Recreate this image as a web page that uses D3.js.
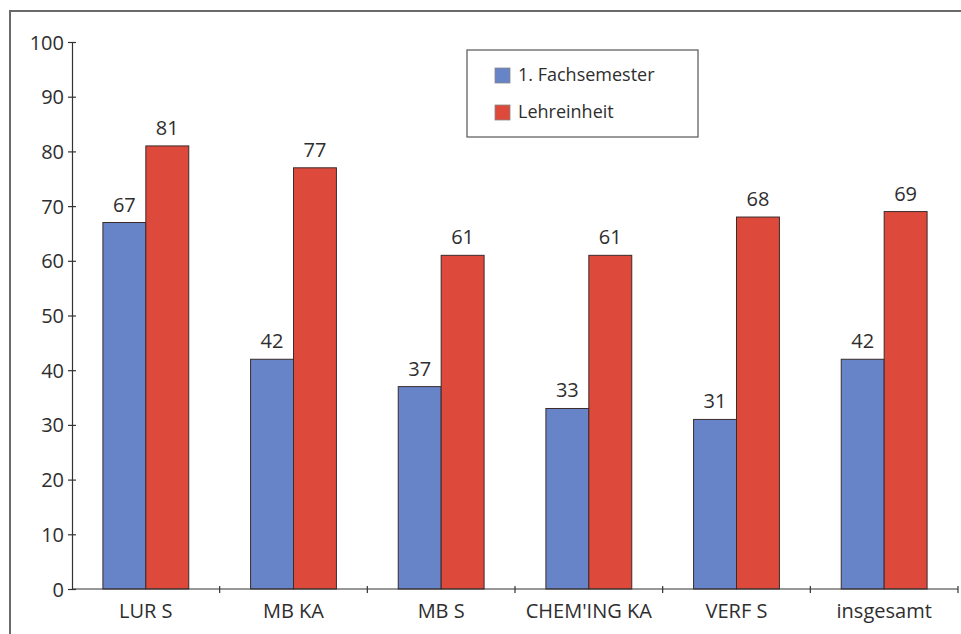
<!DOCTYPE html>
<html>
<head>
<meta charset="utf-8">
<script src="https://cdn.jsdelivr.net/npm/d3@7"></script>
<style>
  html, body { margin: 0; padding: 0; background: #fff; }
  svg { display: block; }
  text { font-family: "Open Sans", "DejaVu Sans", sans-serif; fill: #2e2e2e; }
</style>
</head>
<body>
<svg id="chart" width="961" height="634"></svg>
<script>
// Categories and series values
const categories = ["LUR S", "MB KA", "MB S", "CHEM'ING KA", "VERF S", "insgesamt"];
const fachsemester = [67, 42, 37, 33, 31, 42];
const lehreinheit = [81, 77, 61, 61, 68, 69];
const seriesNames = ["1. Fachsemester", "Lehreinheit"];
const yTicks = [0, 10, 20, 30, 40, 50, 60, 70, 80, 90, 100];

const colors = ["#6784c9", "#dd4a3c"];
const svg = d3.select("#chart");

// Outer frame
svg.append("rect")
  .attr("x", 10).attr("y", 11)
  .attr("width", 1000).attr("height", 700)
  .attr("fill", "none").attr("stroke", "#6a6a6a").attr("stroke-width", 2);

const x0 = 72, x1 = 958, yTop = 42, yBot = 589;

const x = d3.scaleBand().domain(categories).range([x0, x1]).paddingInner(0).paddingOuter(0);
// Each pair of bars sits in the middle of its group, with white space either side
const sub = d3.scaleBand().domain(seriesNames).range([0, x.bandwidth()]).paddingInner(0).paddingOuter(0.72);
const y = d3.scaleLinear().domain([0, 100]).range([yBot, yTop]);

const series = [fachsemester, lehreinheit];
const groups = svg.append("g");

series.forEach((vals, si) => {
  const rows = categories.map((c, i) => ({ c, v: vals[i] }));
  groups.selectAll(null)
    .data(rows)
    .enter().append("rect")
    .attr("x", d => x(d.c) + sub(seriesNames[si]))
    .attr("y", d => y(d.v))
    .attr("width", sub.bandwidth())
    .attr("height", d => y(0) - y(d.v))
    .attr("fill", colors[si])
    .attr("stroke", "#3b2b2b").attr("stroke-width", 1);

  groups.selectAll(null)
    .data(rows)
    .enter().append("text")
    .attr("x", d => x(d.c) + sub(seriesNames[si]) + sub.bandwidth() / 2)
    .attr("y", d => y(d.v) - 11)
    .attr("text-anchor", "middle")
    .style("font-size", "20px")
    .text(d => d.v);
});

// Y axis
const yAxis = d3.axisLeft(y).tickValues(yTicks).tickSize(0).tickPadding(8);
const gy = svg.append("g").attr("transform", `translate(${x0},0)`).call(yAxis);
gy.select(".domain").attr("stroke", "#333").attr("stroke-width", 1.2);
gy.selectAll(".tick text").style("font-size", "20px").attr("fill", "#2e2e2e").attr("dy", "0.35em");
gy.selectAll(".tick").append("line")
  .attr("x1", -4).attr("x2", 4).attr("stroke", "#333").attr("stroke-width", 1.2);

// X axis: ticks at category boundaries, labels centred under each group
const gx = svg.append("g").attr("transform", `translate(0,${yBot})`);
gx.append("line").attr("x1", x0).attr("x2", x1).attr("stroke", "#333").attr("stroke-width", 1.2);
const bounds = categories.map(c => x(c)).concat([x1]);
gx.selectAll("line.tk").data(bounds.slice(1)).enter().append("line")
  .attr("class", "tk")
  .attr("x1", d => d).attr("x2", d => d)
  .attr("y1", -3).attr("y2", 4)
  .attr("stroke", "#333").attr("stroke-width", 1.2);
gx.selectAll("text").data(categories).enter().append("text")
  .attr("x", d => x(d) + x.bandwidth() / 2)
  .attr("y", 29)
  .attr("text-anchor", "middle")
  .style("font-size", "20px")
  .text(d => d);

// Legend
const lg = svg.append("g").attr("transform", "translate(467,50)");
lg.append("rect").attr("width", 231).attr("height", 87)
  .attr("fill", "#fff").attr("stroke", "#555").attr("stroke-width", 1.2);
seriesNames.forEach((name, i) => {
  lg.append("rect")
    .attr("x", 28).attr("y", 18 + i * 37)
    .attr("width", 15).attr("height", 15)
    .attr("fill", colors[i]).attr("stroke", "#888").attr("stroke-width", 0.8);
  lg.append("text")
    .attr("x", 51).attr("y", 31 + i * 37)
    .style("font-size", "18px")
    .text(name);
});
</script>
</body>
</html>
